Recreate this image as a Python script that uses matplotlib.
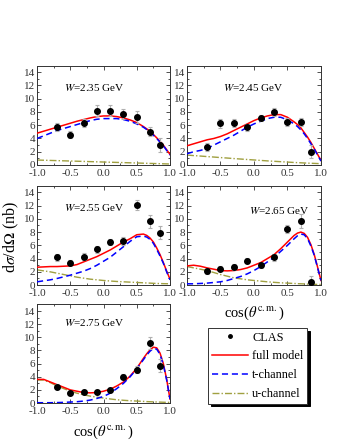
import matplotlib
matplotlib.use("Agg")
import matplotlib.pyplot as plt
from matplotlib.lines import Line2D
from matplotlib.ticker import MultipleLocator

plt.rcParams["font.family"] = ["Liberation Serif", "DejaVu Serif"]
plt.rcParams["mathtext.fontset"] = "stix"

# energies of the five panels
energies = ["2.35", "2.45", "2.55", "2.65", "2.75"]

# CLAS data points
data_x = [-0.7, -0.5, -0.3, -0.1, 0.1, 0.3, 0.5, 0.7, 0.85]
data_235 = [5.8, 4.6, 6.3, 8.2, 8.2, 7.7, 7.3, 5.0, 3.0]
err_235 = [0.6, 0.5, 0.6, 0.8, 0.8, 0.8, 0.9, 0.7, 1.1]
data_245 = [2.7, 6.3, 6.3, 5.7, 7.1, 8.0, 6.5, 6.5, 2.0]
err_245 = [0.6, 0.7, 0.6, 0.5, 0.5, 0.6, 0.6, 0.6, 1.0]
data_255 = [4.2, 3.4, 4.3, 5.4, 6.5, 6.7, 12.1, 9.6, 7.9]
err_255 = [0.5, 0.4, 0.5, 0.5, 0.5, 0.6, 0.8, 1.0, 1.0]
data_265 = [2.1, 2.5, 2.75, 3.7, 3.0, 4.2, 8.4, 9.7, 0.4]
err_265 = [0.4, 0.4, 0.4, 0.4, 0.4, 0.5, 0.6, 1.1, 1.0]
data_275 = [2.5, 1.5, 1.75, 1.7, 1.95, 4.0, 5.1, 9.2, 5.7]
err_275 = [0.4, 0.3, 0.3, 0.3, 0.3, 0.4, 0.5, 0.9, 1.0]

# model curves
curve_x = [-1.0, -0.9, -0.8, -0.7, -0.6, -0.5, -0.4, -0.3, -0.2, -0.1, 0.0,
           0.1, 0.2, 0.3, 0.4, 0.5, 0.6, 0.65, 0.7, 0.75, 0.8, 0.85, 0.9, 0.95, 1.0]

full_235 = [4.8, 5.1, 5.4, 5.7, 6.0, 6.3, 6.6, 6.85, 7.1, 7.3, 7.4,
            7.4, 7.3, 7.1, 6.8, 6.4, 5.8, 5.45, 5.1, 4.6, 4.1, 3.55, 3.0, 2.3, 1.6]
t_235 = [4.0, 4.4, 4.8, 5.2, 5.5, 5.8, 6.1, 6.4, 6.7, 6.9, 7.0,
         7.0, 7.0, 6.85, 6.6, 6.2, 5.7, 5.35, 5.0, 4.5, 4.0, 3.45, 2.9, 2.2, 1.5]
u_235 = [0.75, 0.72, 0.69, 0.66, 0.63, 0.6, 0.57, 0.54, 0.51, 0.48, 0.45,
         0.42, 0.39, 0.36, 0.33, 0.3, 0.27, 0.255, 0.24, 0.225, 0.21, 0.195, 0.18, 0.165, 0.15]

full_245 = [2.9, 3.2, 3.5, 3.8, 4.0, 4.3, 4.7, 5.2, 5.7, 6.2, 6.7,
            7.1, 7.4, 7.6, 7.6, 7.2, 6.5, 6.1, 5.6, 4.9, 4.2, 3.4, 2.5, 1.6, 0.7]
t_245 = [1.7, 2.0, 2.2, 2.5, 3.0, 3.5, 4.0, 4.5, 5.1, 5.7, 6.2,
         6.6, 7.0, 7.2, 7.2, 6.8, 6.2, 5.8, 5.3, 4.7, 4.0, 3.2, 2.4, 1.5, 0.6]
u_245 = [1.5, 1.42, 1.35, 1.27, 1.2, 1.12, 1.05, 0.97, 0.9, 0.83, 0.76,
         0.69, 0.62, 0.56, 0.5, 0.44, 0.38, 0.355, 0.33, 0.305, 0.28, 0.26, 0.24, 0.22, 0.2]

full_255 = [2.7, 2.75, 2.8, 2.8, 2.85, 2.9, 3.1, 3.5, 3.9, 4.3, 4.8,
            5.3, 5.9, 6.5, 7.0, 7.6, 7.7, 7.5, 7.1, 6.5, 5.6, 4.6, 3.4, 2.1, 0.9]
t_255 = [0.5, 0.65, 0.8, 1.0, 1.25, 1.5, 1.8, 2.1, 2.5, 3.0, 3.6,
         4.2, 5.0, 5.8, 6.6, 7.3, 7.4, 7.25, 6.9, 6.3, 5.4, 4.4, 3.3, 2.0, 0.8]
u_255 = [2.3, 2.15, 2.0, 1.8, 1.6, 1.4, 1.2, 1.05, 0.9, 0.8, 0.7,
         0.62, 0.55, 0.5, 0.45, 0.4, 0.35, 0.32, 0.3, 0.27, 0.25, 0.235, 0.22, 0.21, 0.2]

full_265 = [2.9, 3.0, 2.85, 2.6, 2.4, 2.2, 2.15, 2.2, 2.35, 2.6, 3.0,
            3.4, 4.0, 4.6, 5.5, 6.5, 7.5, 7.85, 8.0, 7.8, 7.2, 6.1, 4.6, 2.7, 0.7]
t_265 = [0.2, 0.2, 0.25, 0.3, 0.4, 0.5, 0.7, 1.0, 1.3, 1.7, 2.2,
         2.8, 3.5, 4.2, 5.1, 6.0, 7.0, 7.45, 7.7, 7.6, 7.0, 5.9, 4.5, 2.6, 0.7]
u_265 = [2.8, 2.6, 2.4, 2.2, 1.9, 1.6, 1.35, 1.1, 0.95, 0.8, 0.7,
         0.6, 0.5, 0.42, 0.35, 0.3, 0.25, 0.22, 0.2, 0.18, 0.15, 0.14, 0.12, 0.11, 0.1]

full_275 = [3.6, 3.6, 3.2, 2.8, 2.4, 2.0, 1.8, 1.6, 1.55, 1.6, 1.8,
            2.1, 2.6, 3.2, 4.1, 5.3, 6.8, 7.5, 8.1, 8.5, 8.4, 7.6, 6.0, 3.6, 0.6]
t_275 = [0.05, 0.05, 0.05, 0.07, 0.1, 0.15, 0.2, 0.3, 0.45, 0.7, 1.0,
         1.5, 2.2, 3.0, 4.0, 5.2, 6.6, 7.3, 7.9, 8.3, 8.2, 7.4, 5.8, 3.5, 0.6]
u_275 = [3.5, 3.5, 3.1, 2.6, 2.2, 1.8, 1.5, 1.25, 1.05, 0.9, 0.75,
         0.62, 0.5, 0.42, 0.35, 0.3, 0.25, 0.22, 0.2, 0.18, 0.16, 0.14, 0.12, 0.11, 0.1]

panels = [
    (data_235, err_235, full_235, t_235, u_235),
    (data_245, err_245, full_245, t_245, u_245),
    (data_255, err_255, full_255, t_255, u_255),
    (data_265, err_265, full_265, t_265, u_265),
    (data_275, err_275, full_275, t_275, u_275),
]

# axes boxes in figure fractions: left, bottom, width, height
boxes = [
    [0.109, 0.625, 0.391, 0.226],
    [0.550, 0.625, 0.394, 0.226],
    [0.109, 0.352, 0.391, 0.226],
    [0.550, 0.352, 0.394, 0.226],
    [0.109, 0.084, 0.391, 0.224],
]
label_pos = [(0.2, 0.78), (0.27, 0.78), (0.2, 0.78), (0.46, 0.75), (0.2, 0.82)]

olive = "#a0a040"
red_ls = "-"
blue_ls = (0, (4, 2.5))
olive_ls = (0, (5, 1.5, 1, 1.5))

fig = plt.figure(figsize=(3.4, 4.4), dpi=100)
for i in range(5):
    ax = fig.add_axes(boxes[i])
    d, e, full, tch, uch = panels[i]
    ax.plot(curve_x, full, color="red", lw=1.1, ls=red_ls, zorder=3)
    ax.plot(curve_x, tch, color="blue", lw=1.1, ls=blue_ls, zorder=4)
    ax.plot(curve_x, uch, color=olive, lw=1.0, ls=olive_ls, zorder=2)
    ax.errorbar(data_x, d, yerr=e, fmt="o", color="black", ms=4,
                ecolor="#b0b0b0", elinewidth=0.8, capsize=1.5, capthick=0.8, zorder=5)
    ax.set_xlim(-1.0, 1.0)
    ax.set_ylim(0, 15)
    ax.xaxis.set_minor_locator(MultipleLocator(0.25))
    ax.yaxis.set_major_locator(MultipleLocator(2))
    ax.yaxis.set_minor_locator(MultipleLocator(1))
    ax.set_xticks([-1.0, -0.5, 0.0, 0.5, 1.0])
    ax.set_xticklabels(["-1.0", "-0.5", "0.0", "0.5", "1.0"])
    ax.tick_params(which="both", direction="in", top=True, right=True,
                   labelsize=8, pad=1.5, width=0.6, colors="#333333")
    ax.tick_params(axis="x", which="major", pad=3)
    ax.tick_params(which="major", length=3)
    ax.tick_params(which="minor", length=1.5)
    for s in ax.spines.values():
        s.set_linewidth(0.7)
        s.set_color("#333333")
    ax.text(label_pos[i][0], label_pos[i][1], r"$W$=" + energies[i] + " GeV",
            transform=ax.transAxes, fontsize=8, va="center", ha="left")

fig.text(0.747, 0.289, r"cos($\theta^{\rm c.m.}$)", fontsize=10.5, ha="center", va="center")
fig.text(0.304, 0.018, r"cos($\theta^{\rm c.m.}$)", fontsize=10.5, ha="center", va="center")
fig.text(0.034, 0.462, r"d$\sigma$/d$\Omega$ (nb)", fontsize=11.5, rotation=90,
         ha="center", va="center")

handles = [
    Line2D([], [], ls="none", marker="o", color="black", ms=2.5),
    Line2D([], [], color="red", lw=1.1, ls=red_ls),
    Line2D([], [], color="blue", lw=1.1, ls=blue_ls),
    Line2D([], [], color=olive, lw=1.0, ls=olive_ls),
]
leg = fig.legend(handles, ["CLAS", "full model", "t-channel", "u-channel"],
                 loc="upper left", bbox_to_anchor=(0.612, 0.2545), fontsize=8.8,
                 frameon=True, fancybox=False, edgecolor="#333333",
                 shadow={"color": "black", "alpha": 1.0, "ox": 2, "oy": -2},
                 handlelength=3.0, handletextpad=0.3, borderpad=0.3,
                 borderaxespad=0, labelspacing=0.55)
leg.get_frame().set_linewidth(0.7)

fig.savefig("out.png", dpi=100)
